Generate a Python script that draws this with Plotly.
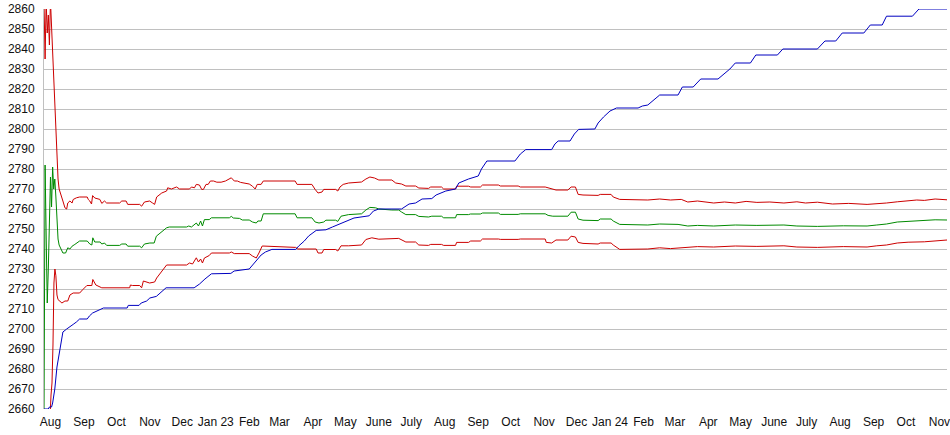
import pandas as pd
import plotly.graph_objects as go

# ---------------- data ----------------
start_date = "2022-07-26"          # first day shown on the axis
last_day = 836                     # days after start shown at the right edge

blue_day = [0, 4, 5, 7, 8, 10, 12, 14, 16, 17.5, 21, 24, 27, 30, 33, 40, 42, 45, 49, 52, 55, 77, 78, 88,
            90, 95, 98, 104, 109, 113, 139, 144, 149, 155, 173, 176, 190, 195, 201, 205, 211, 233,
            236, 241, 245, 252, 261, 267, 276, 287, 301, 305, 310, 331, 338, 344, 350, 359, 363, 372,
            381, 384, 393, 402, 405, 410, 436, 441, 446, 470, 473, 476, 487, 491, 495, 510, 513, 518,
            524, 530, 550, 554, 559, 565, 570, 587, 591, 601, 608, 624, 635, 640, 654, 659, 679, 684,
            716, 723, 733, 739, 759, 765, 776, 780, 804, 810, 836]
blue_val = [2660, 2660, 2661, 2661, 2663, 2670, 2681, 2688, 2694, 2698.5, 2700, 2701, 2702.3, 2703.5,
            2705, 2705, 2706.5, 2708, 2709, 2710, 2710.5, 2710.5, 2711.8, 2711.8, 2713, 2714, 2715.5,
            2716.3, 2718.5, 2720.6, 2720.6, 2722.5, 2725, 2727.6, 2727.8, 2729, 2730, 2733, 2737,
            2738.5, 2739.8, 2739.8, 2741.6, 2744, 2746.5, 2749.3, 2749.6, 2751, 2753, 2755.5, 2756.6,
            2759, 2760, 2760, 2762.5, 2763, 2765, 2765.2, 2767, 2769, 2770, 2773, 2775, 2776.5, 2780,
            2784, 2784, 2787.5, 2789.7, 2789.7, 2792.5, 2794, 2794, 2797.5, 2799.8, 2800, 2803, 2806,
            2809, 2810.5, 2810.5, 2811.5, 2812, 2815, 2817, 2817, 2821, 2821, 2825, 2825, 2830, 2833,
            2833, 2837, 2837, 2840, 2840, 2844, 2844, 2848, 2848, 2852, 2852, 2856.4, 2856.4, 2860, 2860]

upper_day = [0, 1, 2, 3, 4, 5, 6, 7, 8, 9, 10, 11, 12, 13, 14, 16, 17.5, 19.4, 21, 22, 24, 26, 27, 30,
             33, 40, 41, 42.4, 44, 45, 47, 51.7, 53.5, 56, 58, 70, 72, 76, 77.5, 88.6, 90.4, 93, 97.8,
             100.5, 102.4, 104.3, 109, 113.5, 114.5, 118, 122.7, 125.5, 134.7, 136.5, 139.3, 141, 143.9,
             146, 147.6, 150, 152, 154, 157, 160, 164, 168, 171.6, 173.4, 176.2, 179, 182, 187, 190,
             193, 195.5, 197.4, 201, 203, 232.5, 234.3, 248, 251, 253.7, 257.4, 259, 270, 272, 274,
             277, 282, 290, 294, 298, 301.7, 306, 310, 322, 325.6, 331, 335, 344, 347, 356, 358, 368,
             370, 381, 382, 393, 395, 404, 406, 420.7, 422.5, 439, 441, 464, 467, 471, 474, 485, 488,
             492, 494.5, 499, 513, 515, 525, 527, 533, 559, 570, 580, 590, 596, 605, 620, 630, 640,
             650, 660, 672, 685, 697, 705, 716, 730, 745, 762, 771, 780, 790, 800, 808, 815, 825, 836]
upper_val = [2864, 2835, 2864, 2848, 2857, 2842, 2864, 2850, 2840, 2827, 2815, 2797, 2785, 2775, 2770,
             2767, 2764, 2760.6, 2760, 2763, 2764, 2763, 2764.75, 2765.6, 2766, 2766, 2764.75, 2764,
             2762.5, 2766.7, 2765.5, 2764.8, 2762.8, 2764, 2763, 2763, 2764, 2764, 2762.3, 2762.3,
             2761.4, 2763.5, 2764, 2763, 2762.3, 2766, 2768, 2769, 2770.6, 2770, 2771, 2770, 2770, 2771,
             2770.6, 2772.3, 2772, 2769.8, 2769.8, 2772.3, 2772.3, 2774, 2774, 2773.4, 2773.4, 2774,
             2774.8, 2775.6, 2774, 2774, 2773.3, 2772.8, 2772.5, 2771.4, 2770, 2772.3, 2772.3, 2774,
             2774, 2772.3, 2772.3, 2769.8, 2768, 2768.5, 2769.8, 2769.8, 2769, 2771, 2772.3, 2773,
             2773.5, 2773.5, 2775, 2776, 2775.5, 2774.5, 2774.5, 2773, 2772.5, 2771.5, 2771.5, 2770.5,
             2770.3, 2771, 2771, 2770, 2770, 2771.4, 2771.4, 2771, 2771, 2772, 2772, 2771.5, 2771.5,
             2771, 2771, 2770.6, 2770, 2769.5, 2769.5, 2771, 2771, 2767.3, 2767, 2766.8, 2767.3,
             2767.3, 2766, 2764.8, 2764.5, 2765, 2764.5, 2764.8, 2763.5, 2764, 2763, 2763.5, 2763,
             2763.8, 2763.3, 2763.5, 2763, 2763.6, 2763, 2763.4, 2762.5, 2762.8, 2762.3, 2762.5, 2763,
             2763.6, 2764, 2764.5, 2764.3, 2765, 2764.6, 2765]

mid_day = [0, 1, 2, 3, 4, 5, 6, 7, 8, 9, 10, 11, 12, 13, 14, 16, 17.5, 20, 22, 24, 26, 28.6, 31, 33,
           40, 42.4, 44.3, 45.2, 47, 52, 53.5, 56, 58, 70, 72, 76, 77.5, 88.6, 90.4, 93, 98, 102, 104,
           109, 113.5, 116, 125.5, 132, 134, 136.5, 141, 143, 145, 146.7, 148.5, 153, 155, 171.6,
           173.4, 175.3, 181, 183.6, 190, 193, 196.5, 198, 201, 203, 232.5, 234.3, 248, 251, 254.6,
           259, 261, 270, 272, 275, 282, 294, 298, 301.7, 307, 310, 322, 328.4, 331, 335, 344, 347,
           356, 359, 368, 370, 381, 382, 393, 394.8, 404, 406, 420.7, 422.5, 439, 441, 464, 466.7,
           471, 485, 488, 492, 494.5, 499, 513, 515, 525, 527, 533, 559, 570, 580, 587, 596, 605,
           620, 640, 660, 685, 697, 716, 740, 762, 771, 780, 790, 800, 815, 825, 836]
mid_val = [2655, 2782, 2747, 2713, 2730, 2764, 2776, 2761, 2781, 2770, 2775, 2766, 2750, 2745, 2742,
           2739.5, 2738, 2738, 2740.6, 2740, 2741.4, 2742.3, 2743.5, 2744, 2744, 2742.5, 2742, 2745.6,
           2743.5, 2743.5, 2742.5, 2743, 2741.8, 2741.8, 2742.5, 2742.5, 2741.4, 2741.4, 2740.6,
           2742.5, 2743, 2743, 2746.4, 2748.5, 2750.6, 2751, 2751, 2751, 2751.5, 2751, 2753, 2751.5,
           2754, 2751.5, 2754.7, 2754.7, 2755.6, 2755.6, 2756.3, 2755.5, 2755.3, 2754.5, 2754.5,
           2753.5, 2753, 2754, 2754, 2757.6, 2757.6, 2755.6, 2755.6, 2753.5, 2753, 2753.5, 2754.4,
           2754.4, 2753.8, 2756.4, 2757.2, 2757.6, 2759.5, 2760.8, 2760.6, 2760, 2759.5, 2759.5,
           2758.5, 2757.2, 2757.2, 2756.3, 2756, 2756.4, 2756.4, 2755.6, 2755.6, 2757.2, 2757.2,
           2757.5, 2757.5, 2758, 2758, 2757.3, 2757.3, 2757.6, 2757.6, 2756.8, 2756.4, 2756.4,
           2758.4, 2758.4, 2755, 2754.4, 2754.2, 2755, 2755, 2754, 2752.3, 2752, 2752.5, 2752.2,
           2752.3, 2751.5, 2751.8, 2751.5, 2752, 2751.8, 2752, 2751.5, 2751.3, 2751.6, 2751.5, 2752,
           2752.5, 2753.5, 2753.8, 2754, 2754.6, 2754.5]

lower_day = [0, 5.5, 6.5, 7.4, 8.3, 9.2, 10.1, 11, 12, 13, 16.6, 19.4, 22, 24, 27, 33, 36, 39.7, 44.3,
             45.2, 48, 53.5, 79.3, 80, 82, 88.6, 90.4, 92, 97.8, 102.4, 104.3, 109, 113.5, 132, 134.7,
             137.5, 141, 143, 145, 146.7, 148.5, 153, 155, 171.6, 173.4, 176.2, 190, 193, 196.5, 199,
             202, 233, 235, 252, 253.7, 257.4, 259, 270, 272, 275, 282, 294, 298, 303.5, 310, 328.4,
             331, 335, 344, 347, 356, 358, 368, 370, 381, 382, 393, 395, 404, 406, 420.7, 422.5, 439,
             441, 464, 465, 470, 474, 485, 488, 492, 494.5, 499, 513, 515, 525, 527, 533, 559, 570,
             580, 587, 596, 605, 620, 640, 660, 685, 697, 716, 740, 762, 771, 780, 790, 800, 815, 825,
             836]
lower_val = [2655, 2655, 2667, 2673, 2692, 2723, 2730, 2726.6, 2717, 2714.7, 2713, 2714, 2714, 2717,
             2718, 2718, 2719.75, 2721.75, 2721.75, 2724.75, 2722, 2720.6, 2720.6, 2722, 2721.75,
             2721.75, 2720.6, 2724, 2723, 2723.5, 2725.5, 2729, 2732, 2732, 2733, 2732.5, 2735.6,
             2733.5, 2735, 2733, 2735.5, 2736.75, 2738, 2738, 2738.5, 2737.7, 2737.7, 2736.5, 2735.5,
             2738, 2741.5, 2740.8, 2740, 2740, 2738, 2738, 2739.75, 2739.75, 2739, 2741.6, 2741.6,
             2742, 2744.75, 2745.6, 2744.9, 2745.3, 2744.5, 2743.5, 2743.5, 2742, 2741.8, 2742.3,
             2742.3, 2741.8, 2741.8, 2743.3, 2743.3, 2744, 2744, 2745, 2745, 2744.8, 2744.8, 2745,
             2745, 2743.3, 2743, 2744.5, 2744.5, 2746.4, 2746, 2743.3, 2742.8, 2742.5, 2743, 2743,
             2742, 2739.8, 2740, 2740.6, 2740.2, 2740.5, 2741, 2741.2, 2741, 2741.5, 2741.3, 2741.6,
             2741, 2740.8, 2741.2, 2741, 2741.6, 2742, 2743, 2743.4, 2743.6, 2744.2, 2744.5]

tick_dates = ["2022-08-01", "2022-09-01", "2022-10-01", "2022-11-01", "2022-12-01", "2023-01-01",
              "2023-02-01", "2023-03-01", "2023-04-01", "2023-05-01", "2023-06-01", "2023-07-01",
              "2023-08-01", "2023-09-01", "2023-10-01", "2023-11-01", "2023-12-01", "2024-01-01",
              "2024-02-01", "2024-03-01", "2024-04-01", "2024-05-01", "2024-06-01", "2024-07-01",
              "2024-08-01", "2024-09-01", "2024-10-01", "2024-11-01"]
tick_text = ["Aug", "Sep", "Oct", "Nov", "Dec", "Jan 23", "Feb", "Mar", "Apr", "May", "June", "July",
             "Aug", "Sep", "Oct", "Nov", "Dec", "Jan 24", "Feb", "Mar", "Apr", "May", "June", "July",
             "Aug", "Sep", "Oct", "Nov"]
y_ticks = [2660, 2670, 2680, 2690, 2700, 2710, 2720, 2730, 2740, 2750, 2760,
           2770, 2780, 2790, 2800, 2810, 2820, 2830, 2840, 2850, 2860]

# ---------------- figure ----------------
t0 = pd.Timestamp(start_date)


def to_dates(days):
    return t0 + pd.to_timedelta(days, unit="D")


RED = "#cc0000"
GREEN = "#008a00"
BLUE = "#0000c0"

fig = go.Figure()
fig.add_trace(go.Scatter(x=to_dates(upper_day), y=upper_val, mode="lines",
                         line=dict(color=RED, width=1), name="upper"))
fig.add_trace(go.Scatter(x=to_dates(lower_day), y=lower_val, mode="lines",
                         line=dict(color=RED, width=1), name="lower"))
fig.add_trace(go.Scatter(x=to_dates(mid_day), y=mid_val, mode="lines",
                         line=dict(color=GREEN, width=1), name="mid"))
fig.add_trace(go.Scatter(x=to_dates(blue_day), y=blue_val, mode="lines",
                         line=dict(color=BLUE, width=1), name="blue"))

fig.update_layout(
    width=950, height=435,
    margin=dict(l=44, r=0, t=9, b=26),
    paper_bgcolor="white", plot_bgcolor="white",
    showlegend=False,
    font=dict(family="Arial, Liberation Sans, sans-serif", size=12, color="#111111"),
    xaxis=dict(
        range=[t0, to_dates([last_day])[0]],
        tickmode="array", tickvals=tick_dates, ticktext=tick_text,
        showgrid=False, zeroline=False, showline=False,
        ticks="", ticklabelstandoff=4, ticklabeloverflow="allow",
        tickangle=0,
    ),
    yaxis=dict(
        range=[2660, 2860],
        tickmode="array", tickvals=y_ticks,
        showgrid=True, gridcolor="#c0c0c0", gridwidth=1,
        zeroline=False, showline=True, linecolor="#c0c0c0", linewidth=1,
        ticks="", ticklabelstandoff=6,
    ),
)

fig.write_html("out.html", config={"displayModeBar": False},
               post_script="document.body.style.margin='0px';document.body.style.overflow='hidden';")
